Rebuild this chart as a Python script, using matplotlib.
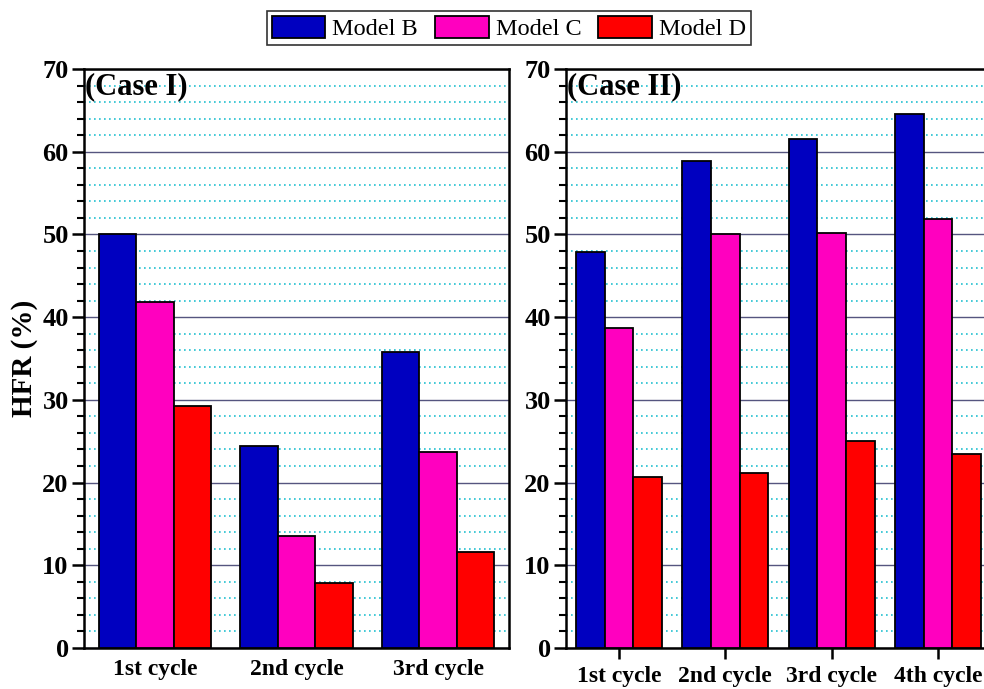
import numpy as np
import matplotlib.pyplot as plt
from matplotlib.ticker import MultipleLocator

plt.rcParams['font.family'] = ['Liberation Serif', 'DejaVu Serif']

models = ['Model B', 'Model C', 'Model D']
colors = ['#0000C0', '#FF00BF', '#FF0000']

# Case I
cycles_1 = ['1st cycle', '2nd cycle', '3rd cycle']
case1_b = [50.0, 24.4, 35.8]
case1_c = [41.8, 13.5, 23.7]
case1_d = [29.3, 7.8, 11.6]

# Case II
cycles_2 = ['1st cycle', '2nd cycle', '3rd cycle', '4th cycle']
case2_b = [47.9, 58.9, 61.5, 64.5]
case2_c = [38.7, 50.1, 50.2, 51.9]
case2_d = [20.7, 21.2, 25.0, 23.4]

W, H = 984, 689
fig = plt.figure(figsize=(W / 100, H / 100), dpi=100)
ax1 = fig.add_axes([84 / W, 41 / H, 425 / W, 579 / H])
ax2 = fig.add_axes([566 / W, 41 / H, 425 / W, 579 / H])


def draw(ax, cycles, series, width, label, xticks_out):
    x = np.arange(len(cycles))
    bars = []
    for i, (vals, c) in enumerate(zip(series, colors)):
        b = ax.bar(x + (i - 1) * width, vals, width, color=c,
                   edgecolor='black', linewidth=1.3, zorder=3)
        bars.append(b)
    ax.set_xlim(-0.5, len(cycles) - 0.5)
    ax.set_ylim(0, 70)
    ax.set_xticks(x)
    ax.set_xticklabels(cycles, fontsize=17, fontweight='bold')
    ax.yaxis.set_major_locator(MultipleLocator(10))
    ax.yaxis.set_minor_locator(MultipleLocator(2))
    for t in ax.get_yticklabels():
        t.set_fontsize(19)
        t.set_fontweight('bold')
    ax.tick_params(axis='y', which='major', direction='out', length=9,
                   width=1.8, pad=2)
    ax.tick_params(axis='y', which='minor', direction='out', length=5,
                   width=1.5)
    if xticks_out:
        ax.tick_params(axis='x', direction='out', length=8, width=1.8,
                       pad=5)
    else:
        ax.tick_params(axis='x', length=0, pad=8)
    ax.grid(True, which='major', axis='y', color='#55557f', lw=1.0,
            zorder=1)
    ax.grid(True, which='minor', axis='y', color='#22c0d0', lw=1.2,
            ls=(0, (1, 2)), zorder=1)
    for s in ax.spines.values():
        s.set_linewidth(1.8)
    ax.text(0.003, 0.995, label, transform=ax.transAxes, ha='left',
            va='top', fontsize=22, fontweight='bold', zorder=4)
    return bars


bars = draw(ax1, cycles_1, [case1_b, case1_c, case1_d], 0.265,
            '(Case I)', False)
draw(ax2, cycles_2, [case2_b, case2_c, case2_d], 0.27, '(Case II)', True)

ax1.set_ylabel('HFR (%)', fontsize=21, fontweight='bold', labelpad=3)

leg = fig.legend([b[0] for b in bars], models, loc='center',
                 bbox_to_anchor=(509 / W, 1 - 28 / H), ncol=3,
                 fontsize=17.5, frameon=True, fancybox=False,
                 handlelength=2.2, handleheight=1.0, columnspacing=0.7,
                 handletextpad=0.3, borderpad=0.2, borderaxespad=0)
leg.get_frame().set_edgecolor('black')
leg.get_frame().set_linewidth(1.2)

fig.savefig('out.png', dpi=100)
